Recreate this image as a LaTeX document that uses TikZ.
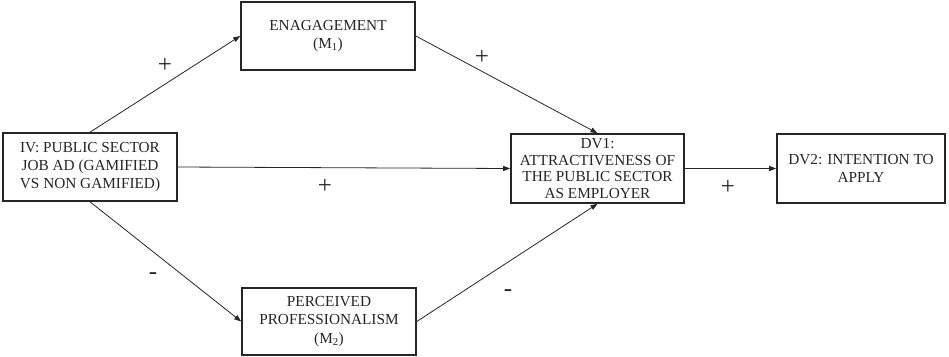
\documentclass[tikz,border=0pt]{standalone}
\usepackage{fontspec}
\setmainfont{Liberation Serif}
\usetikzlibrary{arrows.meta}
\tikzset{
  box/.style={draw=black!85, line width=1.6pt, align=center, inner xsep=0pt, inner ysep=1.5pt,
    text=black!85, font=\fontsize{15.3}{18.2}\selectfont},
  link/.style={draw=black!85, line width=0.8pt, -{Triangle[length=7pt,width=5pt]}},
  sign/.style={inner sep=0pt, text=black!85, font=\fontsize{25}{25}\selectfont}
}
\begin{document}
\begin{tikzpicture}[x=1pt,y=-1pt]
            \useasboundingbox (0,0) rectangle (949,356);

            % Cajas
            \node[box, minimum width=174pt, minimum height=68pt] (iv) at (90,167)
              {IV: PUBLIC SECTOR\\JOB AD (GAMIFIED\\VS NON GAMIFIED)};
            \node[box, minimum width=174pt, minimum height=68pt] (m1) at (328,36)
              {ENAGAGEMENT\\(M\textsubscript{1})};
            \node[box, minimum width=174pt, minimum height=67pt] (m2) at (329,321.5)
              {PERCEIVED\\PROFESSIONALISM\\(M\textsubscript{2})};
            \node[box, minimum width=173pt, minimum height=69pt, inner ysep=0pt,
              font=\fontsize{15.3}{16.8}\selectfont] (dv1) at (597.5,168.5)
              {DV1:\\ATTRACTIVENESS OF\\THE PUBLIC SECTOR\\AS EMPLOYER};
            \node[box, minimum width=168pt, minimum height=69pt] (dv2) at (861,168.5)
              {DV2: INTENTION TO\\APPLY};

            % Flechas
            \draw[link] (iv.north) -- (m1.west);
            \draw[link] (iv.east) -- (dv1.west);
            \draw[link] (iv.south) -- (m2.west);
            \draw[link] (m1.east) -- (dv1.north);
            \draw[link] (m2.east) -- (dv1.south);
            \draw[link] (dv1.east) -- (dv2.west);

            % Signos
            \node[sign] (s1) at (165,65) {+};
            \node[sign] (s2) at (482,57) {+};
            \node[sign] (s3) at (325,186) {+};
            \node[sign] (s4) at (153,276) {-};
            \node[sign] (s5) at (508,293) {-};
            \node[sign] (s6) at (728,187) {+};
        \end{tikzpicture}
\end{document}
